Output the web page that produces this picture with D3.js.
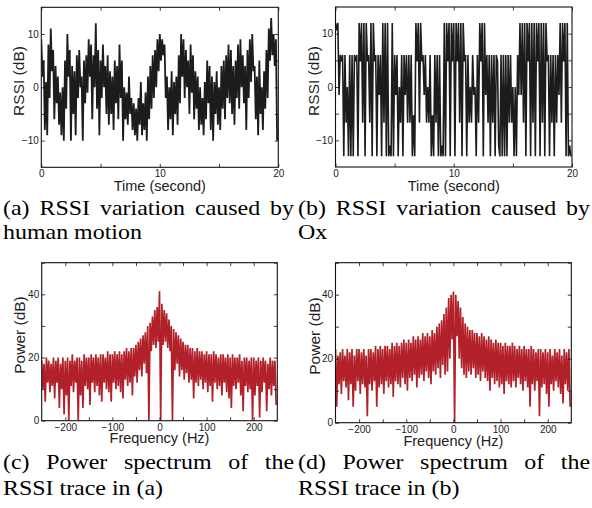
<!DOCTYPE html>
<html>
<head>
<meta charset="utf-8">
<script src="https://cdnjs.cloudflare.com/ajax/libs/d3/7.8.5/d3.min.js"></script>
<style>
body { margin: 0; background: #ffffff; }
</style>
</head>
<body>
<div class="chart"></div>
<script>
var w = 592;
var h = 508;
var svg;
var colorTrace = "#1c1c1c";
var colorSpec = "#b2212a";
var colorText = "#222222";
var axisFont = "Liberation Sans, Arial, sans-serif";
var captionFont = "Liberation Serif, Times New Roman, serif";

// RSSI traces, max and min inside each 0.2 s bin
var binStep = 0.2;
var humanHi = [9, 5, 1, 8, 11, 7, 4, 2, -1, 0,
	5, 10, 7, 4, 3, 6, 7, 2, 5, 6,
	9, 8, 6, 12, 7, 5, 8, 4, 6, 3,
	2, 5, 4, 8, 5, 0, -1, 2, -2, -3,
	-4, -2, 1, -3, -1, 2, 4, 6, 7, 9,
	10, 9, 8, 2, 0, 3, 1, 2, 6, 10,
	9, 7, 5, 8, 6, 3, 2, 0, -2, 1,
	5, 4, 2, 1, 3, 0, 4, 5, 6, 8,
	7, 4, 5, 8, 9, 6, 4, 7, 9, 10,
	4, 2, 5, 0, 3, 7, 11, 13, 10, 9];
var humanLo = [2, -8, -9, -2, 3, -6, -3, -7, -9, -10,
	-4, 2, -10, -5, -9, -2, 0, -10, -3, -1,
	2, -6, 0, -4, -9, -2, 0, -5, -7, -5,
	-8, -3, -6, -2, -10, -6, -7, -5, -8, -9,
	-10, -7, -9, -8, -10, -6, -4, -2, 0, 3,
	5, 6, -2, -8, -6, -9, -5, -7, -3, 2,
	-2, 0, -5, -1, -6, -4, -8, -7, -9, -6,
	-3, -8, -10, -5, -7, -8, -4, -6, -2, -3,
	-5, -7, -2, -4, 0, -3, -8, -2, 1, 3,
	-6, -9, -5, -8, -4, -2, 5, 6, 4, -10];
var oxHi = [12, 12, 6, 6, 6, 0, 6, 6, 6, 6,
	12, 12, 12, 12, 6, 12, 12, 6, 6, 6,
	12, 12, 12, -11, 12, 6, 6, 0, 6, 6,
	6, 6, 6, -5.3, 12, 12, 12, 6, 6, 0,
	6, -5.3, 6, 6, 6, -11, 12, 12, 12, 12,
	12, 12, 12, 12, 12, 6, 6, 0, 6, 0,
	6, 12, 12, 12, 6, 6, 6, 6, 6, -11,
	6, 6, 6, 6, 6, 0, 0, 6, 12, 12,
	12, 12, 12, 12, 12, 12, 12, 12, 12, 12,
	6, 6, 6, 6, 6, 12, 12, 12, 12, -11];
var oxLo = [10.6, -1.5, 4.8, -13, -6.7, -13, -13, -13, 4.8, -13,
	4.8, -6.7, -13, 4.8, -6.7, -13, 4.8, -13, -1.5, -13,
	-6.7, -13, -13, -13, -13, -1.5, -13, -6.7, -13, -1.5,
	-6.7, -6.7, -13, -13, 4.8, -6.7, 4.8, -1.5, -6.7, -6.7,
	-13, -13, -6.7, -13, -13, -13, -13, 4.8, -13, 4.8,
	-13, 4.8, -6.7, -13, 4.8, -13, -6.7, -6.7, -1.5, -13,
	-6.7, 4.8, -13, -1.5, -6.7, -13, -6.7, -13, 4.8, -13,
	-13, -13, -13, -6.7, -6.7, -13, -13, -1.5, -1.5, -6.7,
	-13, 4.8, -13, -6.7, -13, 4.8, -13, -6.7, -13, 4.8,
	-13, -6.7, -13, -6.7, -1.5, -6.7, 4.8, -13, -13, -13];

// power spectra, max and min inside each 5 Hz bin from -250 Hz
var freqStart = -250;
var freqStep = 5;
var specAHi = [19, 18, 20, 19, 18, 20, 19, 20, 18, 20,
	19, 20, 19, 21, 19, 20, 20, 19, 21, 20,
	20, 21, 20, 21, 20, 21, 21, 20, 22, 21,
	21, 22, 21, 22, 21, 22, 23, 22, 23, 23,
	24, 25, 26, 27, 28, 30, 31, 33, 35, 36,
	41, 37, 35, 34, 32, 30, 29, 28, 27, 26,
	25, 24, 24, 23, 23, 22, 23, 22, 22, 21,
	22, 21, 21, 22, 21, 20, 21, 21, 20, 21,
	20, 21, 20, 20, 21, 19, 20, 20, 19, 20,
	20, 19, 20, 19, 20, 19, 18, 20, 19, 19];
var specALo = [10, 6, 12, 9, 11, 7, 12, 4, 10, 2,
	8, 0, 11, 9, 12, 0, 8, 4, 11, 10,
	5, 12, 9, 11, 8, 6, 12, 10, 9, 6,
	12, 10, 11, 9, 7, 13, 11, 12, 8, 14,
	12, 16, 14, 18, 15, 0, 22, 24, 23, 25,
	0, 24, 25, 23, 22, 0, 16, 18, 14, 16,
	13, 15, 12, 13, 7, 12, 11, 13, 10, 12,
	9, 11, 6, 12, 10, 11, 8, 12, 9, 7,
	4, 11, 10, 12, 8, 3, 11, 9, 10, 0,
	8, 11, 1, 9, 12, 3, 10, 8, 11, 5];
var specBHi = [23, 21, 22, 23, 21, 23, 22, 23, 21, 23,
	23, 22, 23, 21, 23, 23, 22, 24, 23, 24,
	23, 24, 24, 23, 25, 24, 25, 24, 25, 26,
	25, 26, 25, 27, 26, 27, 26, 28, 27, 28,
	27, 29, 28, 30, 31, 32, 34, 36, 39, 40,
	41, 40, 38, 36, 33, 31, 30, 29, 29, 28,
	28, 27, 28, 27, 26, 27, 26, 25, 26, 25,
	25, 24, 25, 24, 24, 25, 24, 23, 24, 23,
	24, 23, 23, 24, 23, 22, 23, 23, 22, 23,
	22, 23, 21, 23, 22, 23, 21, 23, 22, 23];
var specBLo = [5, 12, 9, 13, 11, 7, 12, 5, 10, 13,
	9, 12, 11, 2, 12, 10, 13, 5, 11, 12,
	9, 13, 11, 12, 8, 13, 12, 11, 14, 12,
	10, 14, 13, 15, 11, 14, 15, 13, 16, 14,
	12, 16, 15, 17, 14, 18, 15, 16, 20, 26,
	0, 27, 20, 17, 15, 14, 16, 15, 17, 14,
	15, 13, 16, 14, 13, 10, 14, 12, 13, 11,
	12, 9, 13, 12, 11, 13, 11, 14, 12, 10,
	13, 11, 5, 12, 10, 13, 2, 11, 12, 9,
	5, 12, 10, 13, 11, 9, 6, 12, 10, 5];

// axis ticks and the ones that carry a label
var timeDomain = [0, 20];
var timeTicks = [0, 5, 10, 15, 20];
var timeLabels = [0, 10, 20];
var rssiDomain = [-15, 15];
var rssiTicks = [-10, -5, 0, 5, 10];
var rssiLabels = [-10, 0, 10];
var freqDomain = [-250, 250];
var freqTicks = [-200, -150, -100, -50, 0, 50, 100, 150, 200];
var freqLabels = [-200, -100, 0, 100, 200];
var powerDomain = [0, 50];
var powerTicks = [0, 10, 20, 30, 40, 50];
var powerLabels = [0, 20, 40];

drawFigure(".chart");

function drawFigure(dom) {
	svg = d3.select(dom)
		.append("svg")
		.attr("width", w)
		.attr("height", h)
		.style("background", "#ffffff");

	drawPanel({id: "a", left: 41.3, right: 278.3, top: 7.3, bottom: 167.3,
		xDomain: timeDomain, yDomain: rssiDomain, xTicks: timeTicks, xLabels: timeLabels,
		yTicks: rssiTicks, yLabels: rssiLabels, hi: humanHi, lo: humanLo,
		start: 0, step: binStep, color: colorTrace, width: 1.8,
		xTitle: "Time (second)", xTitleY: 190.5, yTitle: "RSSI (dB)", yTitleX: 24, yTitleY: 81});

	drawPanel({id: "b", left: 335.5, right: 572, top: 7, bottom: 167,
		xDomain: timeDomain, yDomain: rssiDomain, xTicks: timeTicks, xLabels: timeLabels,
		yTicks: rssiTicks, yLabels: rssiLabels, hi: oxHi, lo: oxLo,
		start: 0, step: binStep, color: colorTrace, width: 1.6,
		xTitle: "Time (second)", xTitleY: 190.5, yTitle: "RSSI (dB)", yTitleX: 319, yTitleY: 81});

	drawPanel({id: "c", left: 41.7, right: 277.3, top: 262.7, bottom: 420.7,
		xDomain: freqDomain, yDomain: powerDomain, xTicks: freqTicks, xLabels: freqLabels,
		yTicks: powerTicks, yLabels: powerLabels, hi: specAHi, lo: specALo,
		start: freqStart, step: freqStep, color: colorSpec, width: 1.7,
		xTitle: "Frequency (Hz)", xTitleY: 443, yTitle: "Power (dB)", yTitleX: 25, yTitleY: 335});

	drawPanel({id: "d", left: 335.5, right: 571.3, top: 262.7, bottom: 422.7,
		xDomain: freqDomain, yDomain: powerDomain, xTicks: freqTicks, xLabels: freqLabels,
		yTicks: powerTicks, yLabels: powerLabels, hi: specBHi, lo: specBLo,
		start: freqStart, step: freqStep, color: colorSpec, width: 1.7,
		xTitle: "Frequency (Hz)", xTitleY: 445.5, yTitle: "Power (dB)", yTitleX: 319.5, yTitleY: 336});

	caption("(a) RSSI variation caused by", 3, 214.5, 291);
	caption("human motion", 3, 238.5, 0);
	caption("(b) RSSI variation caused by", 298, 214.5, 292);
	caption("Ox", 298, 238.5, 0);
	caption("(c) Power spectrum of the", 3, 468.5, 291);
	caption("RSSI trace in (a)", 3, 494.5, 0);
	caption("(d) Power spectrum of the", 298, 468.5, 292);
	caption("RSSI trace in (b)", 298, 494.5, 0);
}

function drawPanel(p) {
	var x = d3.scaleLinear().domain(p.xDomain).range([p.left, p.right]);
	var y = d3.scaleLinear().domain(p.yDomain).range([p.bottom, p.top]);

	svg.append("clipPath")
		.attr("id", "clip-" + p.id)
		.append("rect")
		.attr("x", p.left)
		.attr("y", p.top)
		.attr("width", p.right - p.left)
		.attr("height", p.bottom - p.top);

	// zigzag through the max and min of every bin
	var pts = [];
	for (var i = 0; i < p.hi.length; i++) {
		pts.push([p.start + i * p.step, p.hi[i]]);
		pts.push([p.start + (i + 0.5) * p.step, p.lo[i]]);
	}
	var line = d3.line()
		.x(function(d) { return x(d[0]); })
		.y(function(d) { return y(d[1]); });

	svg.append("path")
		.datum(pts)
		.attr("clip-path", "url(#clip-" + p.id + ")")
		.attr("d", line)
		.attr("fill", "none")
		.attr("stroke", p.color)
		.attr("stroke-width", p.width)
		.attr("stroke-linejoin", "bevel");

	var fmt = function(labels) {
		return function(d) { return labels.indexOf(d) >= 0 ? d3.format("d")(d) : ""; };
	};

	var bottom = svg.append("g")
		.attr("transform", "translate(0," + p.bottom + ")")
		.call(d3.axisBottom(x).tickValues(p.xTicks).tickFormat(fmt(p.xLabels))
			.tickSizeInner(-3.5).tickSizeOuter(0).tickPadding(3));
	var top = svg.append("g")
		.attr("transform", "translate(0," + p.top + ")")
		.call(d3.axisTop(x).tickValues(p.xTicks).tickFormat("")
			.tickSizeInner(-3.5).tickSizeOuter(0));
	var left = svg.append("g")
		.attr("transform", "translate(" + p.left + ",0)")
		.call(d3.axisLeft(y).tickValues(p.yTicks).tickFormat(fmt(p.yLabels))
			.tickSizeInner(-3.5).tickSizeOuter(0).tickPadding(2.5));
	var right = svg.append("g")
		.attr("transform", "translate(" + p.right + ",0)")
		.call(d3.axisRight(y).tickValues(p.yTicks).tickFormat("")
			.tickSizeInner(-3.5).tickSizeOuter(0));

	[bottom, top, left, right].forEach(function(g) {
		g.select(".domain").remove();
		g.selectAll("line").attr("stroke", "#111111").attr("stroke-width", 0.8);
		g.selectAll("text")
			.attr("font-family", axisFont)
			.attr("font-size", "10px")
			.attr("fill", colorText);
	});

	svg.append("rect")
		.attr("x", p.left)
		.attr("y", p.top)
		.attr("width", p.right - p.left)
		.attr("height", p.bottom - p.top)
		.attr("fill", "none")
		.attr("stroke", "#111111")
		.attr("stroke-width", 1.1);

	svg.append("text")
		.attr("x", (p.left + p.right) / 2)
		.attr("y", p.xTitleY)
		.attr("text-anchor", "middle")
		.attr("font-family", axisFont)
		.attr("font-size", "14.5px")
		.attr("fill", colorText)
		.text(p.xTitle);

	svg.append("text")
		.attr("transform", "translate(" + p.yTitleX + "," + p.yTitleY + ") rotate(-90)")
		.attr("text-anchor", "middle")
		.attr("font-family", axisFont)
		.attr("font-size", "15.5px")
		.attr("fill", colorText)
		.text(p.yTitle);
}

function caption(str, x0, y0, width) {
	var sx = 1.14;
	var t = svg.append("text")
		.attr("transform", "translate(" + x0 + "," + y0 + ") scale(" + sx + ",1)")
		.attr("font-family", captionFont)
		.attr("font-size", "21px")
		.attr("fill", "#000000")
		.text(str);
	if (width > 0) {
		// justified line, spread the words over the column
		var len = t.node().getComputedTextLength();
		var gaps = str.split(" ").length - 1;
		t.attr("word-spacing", ((width / sx - len) / gaps) + "px");
	}
}
</script>
</body>
</html>
